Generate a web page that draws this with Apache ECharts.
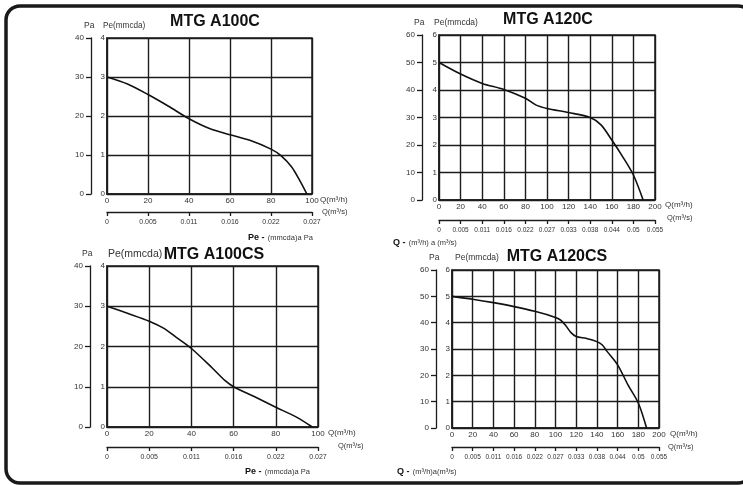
<!DOCTYPE html>
<html><head><meta charset="utf-8">
<script src="https://cdn.jsdelivr.net/npm/echarts@6/dist/echarts.min.js"></script>
<style>html,body{margin:0;padding:0;background:#fff}#c{width:743px;height:485px}</style>
</head><body><div id="c"></div>
<script>
// ---- data ----
const titles = ['MTG A100C', 'MTG A120C', 'MTG A100CS', 'MTG A120CS'];
const a100cQ  = [0, 10, 20, 30, 40, 50, 60, 70, 80, 85, 90, 94, 97.5];
const a100cPe = [3.0, 2.82, 2.55, 2.25, 1.93, 1.68, 1.52, 1.37, 1.15, 0.98, 0.7, 0.35, 0];
const a120cQ  = [0, 20, 40, 60, 80, 90, 100, 120, 140, 150, 160, 170, 180, 189];
const a120cPe = [5.0, 4.58, 4.24, 4.02, 3.7, 3.45, 3.33, 3.18, 3.0, 2.73, 2.18, 1.58, 0.91, 0];
const a100csQ  = [0, 10, 20, 27, 33, 40, 50, 56, 60, 70, 80, 90, 97.3];
const a100csPe = [3.0, 2.82, 2.63, 2.45, 2.22, 1.95, 1.46, 1.15, 1.0, 0.75, 0.49, 0.24, 0];
const a120csQ  = [0, 20, 40, 60, 80, 100, 105, 110, 115, 120, 130, 140, 145, 150, 160, 170, 180, 188];
const a120csPe = [5.0, 4.89, 4.76, 4.61, 4.43, 4.2, 4.1, 3.88, 3.62, 3.47, 3.4, 3.28, 3.16, 2.9, 2.4, 1.64, 0.95, 0];
const qMax = [100, 200, 100, 200];
const peMax = [4, 6, 4, 6];
const paMax = [40, 60, 40, 60];
const msLabels100 = ['0', '0.005', '0.011', '0.016', '0.022', '0.027'];
const msLabels200 = ['0', '0.005', '0.011', '0.016', '0.022', '0.027', '0.033', '0.038', '0.044', '0.05', '0.055'];

// ---- layout ----
const FONT = '"Liberation Sans", Arial, sans-serif';
const grids = [
  {left: 107, top: 38, width: 205, height: 156},
  {left: 439, top: 35, width: 216, height: 165},
  {left: 107, top: 266, width: 211, height: 161},
  {left: 452, top: 270, width: 207, height: 158}
];
const msOffset = [18, 20, 20, 19];
const paOffset = [16, 17, 17, 16];
const msFont = [7, 6.5, 7, 6.5];
const seriesQ = [a100cQ, a120cQ, a100csQ, a120csQ];
const seriesPe = [a100cPe, a120cPe, a100csPe, a120csPe];
const msLabels = [msLabels100, msLabels200, msLabels100, msLabels200];

const ink = '#1c1c1c';
const xAxes = [], yAxes = [], series = [];
grids.forEach((g, i) => {
  const step = 20;
  xAxes.push({
    gridIndex: i, type: 'value', min: 0, max: qMax[i], interval: step, position: 'bottom',
    axisLine: {show: true, onZero: false, lineStyle: {color: ink, width: 1.5}},
    axisTick: {show: false},
    axisLabel: {fontFamily: FONT, fontSize: 8, color: '#333', margin: 3},
    splitLine: {show: true, lineStyle: {color: ink, width: 1.4}}
  });
  const labs = msLabels[i];
  xAxes.push({
    gridIndex: i, type: 'value', min: 0, max: qMax[i], interval: step, position: 'bottom',
    offset: msOffset[i],
    axisLine: {show: true, onZero: false, lineStyle: {color: ink, width: 1.3}},
    axisTick: {show: true, length: 4, lineStyle: {color: ink, width: 1.3}},
    axisLabel: {fontFamily: FONT, fontSize: msFont[i], color: '#333', margin: 7,
      formatter: v => labs[Math.round(v / step)]},
    splitLine: {show: false}
  });
  yAxes.push({
    gridIndex: i, type: 'value', min: 0, max: peMax[i], interval: 1, position: 'left',
    axisLine: {show: true, onZero: false, lineStyle: {color: ink, width: 1.5}},
    axisTick: {show: false},
    axisLabel: {fontFamily: FONT, fontSize: 8, color: '#333', margin: 2},
    splitLine: {show: true, lineStyle: {color: ink, width: 1.4}}
  });
  yAxes.push({
    gridIndex: i, type: 'value', min: 0, max: paMax[i], interval: 10, position: 'left',
    offset: paOffset[i],
    axisLine: {show: true, onZero: false, lineStyle: {color: ink, width: 1.3}},
    axisTick: {show: true, length: 5, lineStyle: {color: ink, width: 1.3}},
    axisLabel: {fontFamily: FONT, fontSize: 8, color: '#333', margin: 7},
    splitLine: {show: false}
  });
  series.push({
    type: 'line', xAxisIndex: i * 2, yAxisIndex: i * 2, smooth: 0.3,
    showSymbol: false, symbol: 'none', silent: true,
    lineStyle: {color: '#111', width: 1.6},
    data: seriesQ[i].map((q, k) => [q, seriesPe[i][k]])
  });
});

function txt(text, x, y, size, opts) {
  opts = opts || {};
  return {type: 'text', silent: true, z: 10, style: Object.assign({
    text: text, x: x, y: y, fill: opts.fill || '#333',
    font: (opts.bold ? 'bold ' : '') + size + 'px ' + FONT,
    align: opts.align || 'left', verticalAlign: 'middle',
    textAlign: opts.align || 'left', textVerticalAlign: 'middle'
  }, opts.extra || {})};
}
function richTxt(bold, rest, x, y) {
  return {type: 'text', silent: true, z: 10, style: {
    text: '{b|' + bold + '} {r|' + rest + '}', x: x, y: y,
    align: 'left', verticalAlign: 'middle', textAlign: 'left', textVerticalAlign: 'middle',
    rich: {
      b: {fontFamily: FONT, fontWeight: 'bold', fontSize: 9, fill: '#111', color: '#111'},
      r: {fontFamily: FONT, fontSize: 7.5, fill: '#333', color: '#333'}
    }
  }};
}

const graphics = [
  {type: 'rect', silent: true, shape: {x: 6, y: 6, width: 746, height: 477, r: 14},
   style: {fill: 'none', stroke: '#1a1a1a', lineWidth: 3.5}},
  // plot 1
  txt(titles[0], 215, 22, 16, {bold: true, align: 'center', fill: '#111'}),
  txt('Pa', 84, 26, 8.5),
  txt('Pe(mmcda)', 103, 26, 8.2),
  txt('Q(m³/h)', 320, 200, 8),
  txt('Q(m³/s)', 322, 212, 7.5),
  richTxt('Pe -', '(mmcda)a Pa', 248, 238),
  // plot 2
  txt(titles[1], 548, 20, 16, {bold: true, align: 'center', fill: '#111'}),
  txt('Pa', 414, 23, 8.5),
  txt('Pe(mmcda)', 434, 23, 8.5),
  txt('Q(m³/h)', 665, 205, 8),
  txt('Q(m³/s)', 667, 218, 7.5),
  richTxt('Q -', '(m³/h) a (m³/s)', 393, 243),
  // plot 3
  txt(titles[2], 214, 255, 16, {bold: true, align: 'center', fill: '#111'}),
  txt('Pa', 82, 254, 8.5),
  txt('Pe(mmcda)', 108, 254, 10.5),
  txt('Q(m³/h)', 328, 433, 8),
  txt('Q(m³/s)', 338, 446, 7.5),
  richTxt('Pe -', '(mmcda)a Pa', 245, 472),
  // plot 4
  txt(titles[3], 557, 257, 16, {bold: true, align: 'center', fill: '#111'}),
  txt('Pa', 429, 258, 8.5),
  txt('Pe(mmcda)', 455, 258, 8.5),
  txt('Q(m³/h)', 670, 434, 8),
  txt('Q(m³/s)', 668, 447, 7.5),
  richTxt('Q -', '(m³/h)a(m³/s)', 397, 472)
];

const chart = echarts.init(document.getElementById('c'), null, {renderer: 'canvas'});
chart.setOption({
  animation: false,
  backgroundColor: '#fff',
  grid: grids.map(g => Object.assign({show: true, borderColor: ink, borderWidth: 1.5, backgroundColor: 'transparent', containLabel: false}, g)),
  xAxis: xAxes,
  yAxis: yAxes,
  series: series,
  graphic: graphics
});
</script>
</body></html>
